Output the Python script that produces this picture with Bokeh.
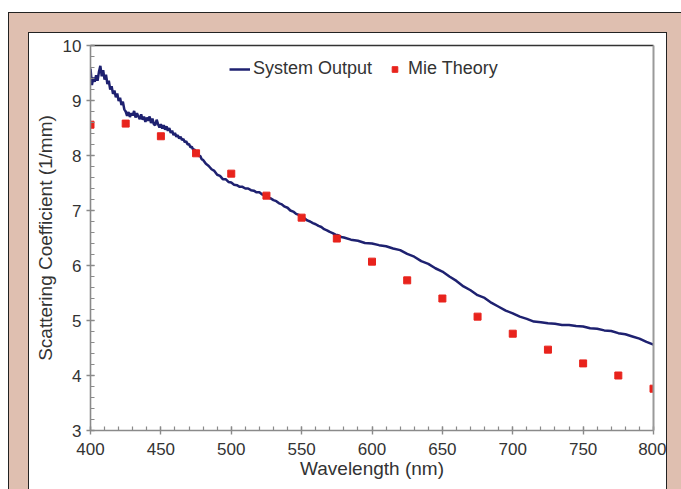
from bokeh.plotting import figure
from bokeh.models import LinearAxis, Range1d, FixedTicker
from bokeh.embed import file_html
from bokeh.resources import INLINE

# ---- data ----
wavelength_sys = [400, 401, 402, 403, 404, 405, 406, 407, 408, 409, 410, 411, 412, 413, 414,
                  415, 416, 417, 418, 419, 420, 421, 422, 423, 424, 425, 426, 427, 428, 429,
                  430, 431, 432, 433, 434, 435, 436, 437, 438, 439, 440, 441, 442, 443, 444,
                  445, 446, 447, 448, 449, 450, 451, 452, 453, 454, 455, 456, 457, 458, 459,
                  460, 461, 462, 463, 464, 465, 466, 467, 468, 469, 470, 471, 472, 473, 474,
                  475, 476, 477, 478, 479, 480,
                  482, 484, 486, 488, 490, 492, 494, 496, 498, 500, 502, 504, 506, 508, 510,
                  512, 514, 516, 518, 520, 522, 524, 526, 528, 530, 532, 534, 536, 538, 540,
                  542, 544, 546, 548, 550, 552, 554, 556, 558, 560, 562, 564, 566, 568, 570,
                  572, 574, 576, 578, 580,
                  585, 590, 595, 600, 605, 610, 615, 620, 625, 630, 635, 640, 645, 650, 655,
                  660, 665, 670, 675, 680, 685, 690, 695, 700, 705, 710, 715, 720, 725, 730,
                  735, 740, 745, 750, 755, 760, 765, 770, 775, 780, 785, 790, 795, 800]
scatter_sys = [9.58, 9.28, 9.42, 9.34, 9.46, 9.36, 9.52, 9.63, 9.44, 9.55, 9.38, 9.47, 9.30, 9.36, 9.20,
               9.26, 9.12, 9.18, 9.06, 9.13, 8.99, 9.05, 8.92, 8.98, 8.84, 8.80, 8.72, 8.79, 8.70, 8.77,
               8.73, 8.81, 8.69, 8.77, 8.71, 8.66, 8.75, 8.65, 8.71, 8.61, 8.69, 8.63, 8.71, 8.59, 8.67,
               8.57, 8.55, 8.65, 8.57, 8.51, 8.57, 8.49, 8.55, 8.47, 8.53, 8.45, 8.50, 8.41, 8.45, 8.37,
               8.41, 8.34, 8.37, 8.31, 8.34, 8.28, 8.30, 8.24, 8.26, 8.20, 8.21, 8.15, 8.16, 8.10, 8.11,
               8.05, 8.05, 7.99, 7.99, 7.93, 7.92,
               7.85, 7.81, 7.75, 7.72, 7.65, 7.63, 7.57, 7.57, 7.52, 7.51, 7.47, 7.46, 7.43, 7.43, 7.40,
               7.40, 7.37, 7.36, 7.33, 7.33, 7.29, 7.28, 7.24, 7.22, 7.19, 7.17, 7.13, 7.11, 7.07, 7.05,
               7.00, 6.98, 6.94, 6.92, 6.88, 6.86, 6.82, 6.80, 6.77, 6.75, 6.72, 6.70, 6.66, 6.64, 6.61,
               6.59, 6.56, 6.55, 6.52, 6.51,
               6.47, 6.45, 6.41, 6.40, 6.37, 6.35, 6.31, 6.28, 6.21, 6.16, 6.08, 6.03, 5.95, 5.89, 5.80,
               5.72, 5.62, 5.55, 5.46, 5.41, 5.32, 5.25, 5.18, 5.13, 5.07, 5.03, 4.98, 4.97, 4.95, 4.94,
               4.92, 4.92, 4.90, 4.89, 4.86, 4.85, 4.82, 4.81, 4.77, 4.75, 4.71, 4.67, 4.61, 4.56]

wavelength_mie = [400, 425, 450, 475, 500, 525, 550, 575, 600, 625, 650, 675, 700, 725, 750, 775, 800]
scatter_mie = [8.56, 8.58, 8.35, 8.04, 7.67, 7.27, 6.87, 6.49, 6.07, 5.73, 5.40, 5.07, 4.76, 4.47, 4.22, 4.00, 3.76]

x_ticks = [400, 450, 500, 550, 600, 650, 700, 750, 800]
y_ticks = [3, 4, 5, 6, 7, 8, 9, 10]

FONT = "Liberation Sans"
AXIS_GRAY = "#8a8a8a"
TEXT = "#333333"
TAN = "#dfbfb0"

p = figure(width=637, height=456, output_backend="svg", toolbar_location=None,
           x_range=Range1d(400, 800), y_range=Range1d(3, 10),
           min_border_left=61, min_border_right=13, min_border_top=12, min_border_bottom=59,
           x_axis_label="Wavelength (nm)", y_axis_label="Scattering Coefficient (1/mm)")
p.margin = (33, 0, 0, 29)
p.styles = {"box-shadow": f"0 0 0 1px #222222, 0 0 0 20px {TAN}, 0 0 0 21px #222222"}
p.background_fill_color = "white"
p.border_fill_color = "white"
p.outline_line_color = None
p.grid.visible = False

p.line(wavelength_sys, scatter_sys, line_color="#1e2170", line_width=2.5,
       legend_label="System Output")
p.scatter(wavelength_mie, scatter_mie, marker="square", size=7, fill_color="#e8231c",
          line_color="#e8231c", legend_label="Mie Theory")

for ax in (p.xaxis[0], p.yaxis[0]):
    ax.axis_line_color = AXIS_GRAY
    ax.axis_line_width = 1.6
    ax.major_tick_line_color = AXIS_GRAY
    ax.minor_tick_line_color = AXIS_GRAY
    ax.major_tick_line_width = 1.4
    ax.minor_tick_line_width = 1.2
    ax.major_tick_in = 4
    ax.major_tick_out = 4
    ax.minor_tick_in = 4
    ax.minor_tick_out = 0
    ax.major_label_text_font = FONT
    ax.major_label_text_font_size = "17px"
    ax.major_label_text_color = TEXT
    ax.axis_label_text_font = FONT
    ax.axis_label_text_font_size = "19px"
    ax.axis_label_text_font_style = "normal"
    ax.axis_label_text_color = TEXT

p.xaxis[0].ticker = FixedTicker(ticks=x_ticks, minor_ticks=list(range(400, 801, 10)))
p.yaxis[0].ticker = FixedTicker(ticks=y_ticks, minor_ticks=[v / 5 for v in range(15, 51)])
p.xaxis[0].major_label_standoff = 8
p.xaxis[0].axis_label_standoff = 0
p.yaxis[0].major_label_standoff = 5
p.yaxis[0].axis_label_standoff = 4

right_ax = LinearAxis(ticker=FixedTicker(ticks=[]), axis_line_color="#9a9a9a", axis_line_width=2,
                      major_tick_line_color=None, minor_tick_line_color=None,
                      major_label_text_font_size="0px")
top_ax = LinearAxis(ticker=FixedTicker(ticks=[]), axis_line_color="#333333", axis_line_width=1.6,
                    major_tick_line_color=None, minor_tick_line_color=None,
                    major_label_text_font_size="0px")
p.add_layout(right_ax, "right")
p.add_layout(top_ax, "above")

lg = p.legend[0]
lg.orientation = "horizontal"
lg.location = (139, 351)
lg.background_fill_alpha = 0
lg.border_line_color = None
lg.padding = 0
lg.margin = 0
lg.spacing = 12
lg.label_standoff = 3
lg.glyph_width = 21
lg.glyph_height = 14
lg.label_height = 20
lg.label_text_font = FONT
lg.label_text_font_size = "18px"
lg.label_text_color = TEXT

open("out.html", "w").write(file_html(p, INLINE))
